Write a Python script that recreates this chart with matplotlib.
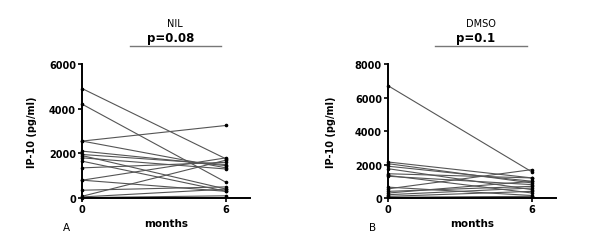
import matplotlib

matplotlib.use("Agg")
import matplotlib.pyplot as plt

# IP-10 (pg/ml) per subject at month 0 and month 6
MONTHS = [0, 6]
NIL_M0 = [4900, 4200, 2550, 2550, 2100, 1950, 1900, 1800, 1650, 1350, 800, 800, 350, 80, 50, 20]
NIL_M6 = [1750, 700, 3250, 1350, 1450, 1500, 400, 1300, 300, 1600, 1800, 300, 500, 1700, 400, 100]
DMSO_M0 = [6700, 2150, 2050, 1900, 1750, 1450, 1350, 1300, 650, 550, 400, 300, 200, 100, 50]
DMSO_M6 = [1550, 1200, 900, 1000, 500, 1200, 300, 800, 150, 1700, 700, 1000, 600, 400, 100]

NIL_YTICKS = [0, 2000, 4000, 6000]
DMSO_YTICKS = [0, 2000, 4000, 6000, 8000]

LINE = "#555555"


def panel(fig, rect, m0, m6, yticks, title, pval, letter, lx, cx):
    ax = fig.add_axes(rect)
    for a, b in zip(m0, m6):
        ax.plot(MONTHS, [a, b], "-", color=LINE, lw=0.8)
        ax.plot(MONTHS, [a, b], "o", color="black", ms=1.6, clip_on=False)
    ax.set_xlim(0, 7)
    ax.set_ylim(0, yticks[-1])
    ax.set_xticks(MONTHS)
    ax.set_yticks(yticks)
    for s in ("top", "right"):
        ax.spines[s].set_visible(False)
    for s in ("left", "bottom"):
        ax.spines[s].set_linewidth(1.4)
    ax.tick_params(width=1.2, length=3, labelsize=7, pad=1.5)
    for t in ax.get_xticklabels() + ax.get_yticklabels():
        t.set_fontweight("bold")
    # title block: group name, p value and a bar underneath
    fig.text(cx, 0.905, title, ha="center", va="center", fontsize=7)
    fig.text(cx - 0.008, 0.848, pval, ha="center", va="center", fontsize=8.5,
             fontweight="bold")
    fig.add_artist(plt.Line2D([cx - 0.076, cx + 0.077], [0.813, 0.813],
                              color="#777777", lw=1))
    fig.text(lx, 0.474, "IP-10 (pg/ml)", rotation=90, ha="center",
             va="center", fontsize=7, fontweight="bold")
    fig.text(rect[0] + 0.14, 0.108, "months", ha="center", va="center",
             fontsize=7.5, fontweight="bold")
    fig.text(rect[0] - 0.026, 0.09, letter, ha="center", va="center",
             fontsize=7.5)
    return ax


fig = plt.figure(figsize=(6.0, 2.51), dpi=100)
panel(fig, [0.137, 0.207, 0.28, 0.534], NIL_M0, NIL_M6, NIL_YTICKS,
      "NIL", "p=0.08", "A", 0.053, 0.292)
panel(fig, [0.647, 0.207, 0.28, 0.534], DMSO_M0, DMSO_M6, DMSO_YTICKS,
      "DMSO", "p=0.1", "B", 0.552, 0.801)
fig.savefig("out.png", dpi=100)
